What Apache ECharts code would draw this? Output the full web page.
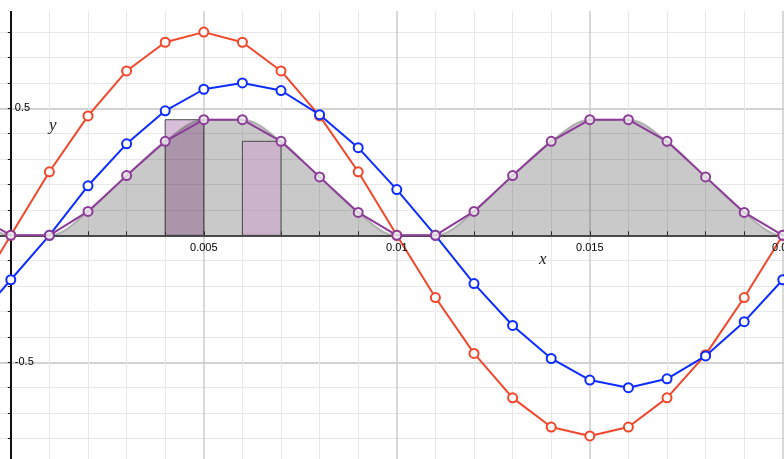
<!DOCTYPE html>
<html>
<head>
<meta charset="utf-8">
<style>
  html, body { margin: 0; padding: 0; background: #ffffff; }
  #chart { width: 784px; height: 459px; }
</style>
<script src="https://cdn.jsdelivr.net/npm/echarts@6/dist/echarts.min.js"></script>
</head>
<body>
<div id="chart"></div>
<script>
// Sample times (s)
const times = [-0.001, 0, 0.001, 0.002, 0.003, 0.004, 0.005, 0.006, 0.007, 0.008, 0.009,
               0.010, 0.011, 0.012, 0.013, 0.014, 0.015, 0.016, 0.017, 0.018, 0.019, 0.020, 0.021];
// Voltage-like wave (red)
const redValues = [-0.25, 0, 0.25, 0.47, 0.647, 0.76, 0.80, 0.76, 0.647, 0.47, 0.25,
                   0, -0.245, -0.465, -0.64, -0.755, -0.79, -0.755, -0.64, -0.47, -0.245, 0, 0.25];
// Lagging current-like wave (blue)
const blueValues = [-0.35, -0.175, 0, 0.195, 0.36, 0.49, 0.575, 0.60, 0.57, 0.475, 0.345,
                    0.18, 0, -0.19, -0.355, -0.485, -0.57, -0.60, -0.565, -0.475, -0.34, -0.175, 0];
// Product of the two waves (purple, shaded)
const productValues = [0.087, 0, 0, 0.094, 0.235, 0.37, 0.455, 0.455, 0.37, 0.23, 0.09,
                       0, 0, 0.094, 0.235, 0.37, 0.455, 0.455, 0.37, 0.23, 0.09, 0, 0];
// Rectangle strips under the product curve
const stripStart = [0.004, 0.006];
const stripEnd = [0.005, 0.007];
const stripHeight = [0.455, 0.37];
// Tick labels
const xTickValues = [0.005, 0.01, 0.015, 0.02];
const xTickLabels = ['0.005', '0.01', '0.015', '0.02'];
const yTickValues = [0.5, -0.5];
const yTickLabels = ['0.5', '-0.5'];

function pairs(xs, ys) { return xs.map((x, i) => [x, ys[i]]); }
function stripRenderer(style) {
  return function (params, api) {
    const p0 = api.coord([api.value(0), api.value(2)]);
    const p1 = api.coord([api.value(1), 0]);
    return {
      type: 'rect',
      shape: { x: p0[0], y: p0[1], width: p1[0] - p0[0], height: p1[1] - p0[1] },
      style: style
    };
  };
}
const stripData = stripStart.map((s, i) => [s, stripEnd[i], stripHeight[i]]);

const labelFont = { fontFamily: '"Liberation Sans", Arial, sans-serif', fontSize: 11, color: '#000', opacity: 1 };

// Tick labels sit on the axes that cross at the origin
const xLabelData = xTickValues.map((v, i) => ({ value: [v, 0], name: xTickLabels[i] }));
const yLabelData = yTickValues.map((v, i) => ({ value: [0, v], name: yTickLabels[i] }));

const chart = echarts.init(document.getElementById('chart'), null, { renderer: 'canvas' });

chart.setOption({
  animation: false,
  backgroundColor: '#ffffff',
  grid: { left: -182.2, width: 1158, top: -18.7, height: 508, outerBoundsMode: 'none', containLabel: false },
  xAxis: {
    type: 'value', min: -0.005, max: 0.025, interval: 0.005,
    axisLine: { onZero: true, lineStyle: { color: '#4a4a4a', width: 2 } },
    axisTick: { show: true, inside: true, length: 4, lineStyle: { color: '#333', width: 1 } },
    minorTick: { show: true, splitNumber: 5, length: 4, lineStyle: { color: '#333', width: 1 } },
    splitLine: { show: true, lineStyle: { color: '#cdcdcd', width: 1.5 } },
    minorSplitLine: { show: true, lineStyle: { color: '#e8e8e8', width: 1 } },
    axisLabel: { show: false }
  },
  yAxis: {
    type: 'value', min: -1, max: 1, interval: 0.5,
    axisLine: { onZero: true, lineStyle: { color: '#111', width: 2 } },
    axisTick: { show: true, inside: false, length: 3, lineStyle: { color: '#111', width: 1 } },
    minorTick: { show: true, splitNumber: 5, length: 3, lineStyle: { color: '#111', width: 1 } },
    splitLine: { show: true, lineStyle: { color: '#d2d2d2', width: 2 } },
    minorSplitLine: { show: true, lineStyle: { color: '#e8e8e8', width: 1 } },
    axisLabel: { show: false }
  },
  graphic: [
    { type: 'rect', z: 100, shape: { x: 0, y: 0, width: 784, height: 11 }, style: { fill: '#ffffff' } },
    { type: 'text', z: 101, left: 49, top: 117,
      style: { text: 'y', font: 'italic 17px "Liberation Serif", "DejaVu Serif", serif', fill: '#222' } },
    { type: 'text', z: 101, left: 539, top: 251,
      style: { text: 'x', font: 'italic 17px "Liberation Serif", "DejaVu Serif", serif', fill: '#222' } }
  ],
  series: [
    {
      type: 'custom', z: 1, renderItem: stripRenderer({
        fill: 'rgba(150,80,150,0.37)', stroke: '#4a4a4a', lineWidth: 1
      }),
      data: stripData.slice(0, 1), encode: { x: [0, 1], y: 2 }
    },
    {
      type: 'line', z: 2, data: pairs(times, productValues),
      smooth: 0.35, showSymbol: false, symbol: 'none',
      lineStyle: { color: 'rgba(90,90,90,0.35)', width: 2 },
      areaStyle: { color: 'rgba(0,0,0,0.21)', opacity: 1 }
    },
    {
      type: 'custom', z: 3, renderItem: stripRenderer({
        fill: 'rgba(205,160,205,0.55)', stroke: '#4a4a4a', lineWidth: 1
      }),
      data: stripData.slice(1), encode: { x: [0, 1], y: 2 }
    },
    {
      type: 'line', z: 4, data: pairs(times, redValues),
      symbol: 'circle', symbolSize: 9, showAllSymbol: true,
      lineStyle: { color: '#f2462b', width: 2 },
      itemStyle: { color: '#ffffff', borderColor: '#f2462b', borderWidth: 2 }
    },
    {
      type: 'line', z: 5, data: pairs(times, blueValues),
      symbol: 'circle', symbolSize: 9, showAllSymbol: true,
      lineStyle: { color: '#0d2cff', width: 2 },
      itemStyle: { color: '#ffffff', borderColor: '#0d2cff', borderWidth: 2 }
    },
    {
      type: 'line', z: 6, data: pairs(times, productValues),
      symbol: 'circle', symbolSize: 9, showAllSymbol: true,
      lineStyle: { color: '#8c3c98', width: 2 },
      itemStyle: { color: 'rgba(232,232,232,0.85)', borderColor: '#8c3c98', borderWidth: 2 }
    },
    {
      type: 'scatter', z: 7, data: xLabelData, symbolSize: 0, silent: true,
      itemStyle: { opacity: 1 },
      label: Object.assign({ show: true, position: 'bottom', distance: 7, formatter: p => p.name }, labelFont)
    },
    {
      type: 'scatter', z: 7, data: yLabelData, symbolSize: 0, silent: true,
      itemStyle: { opacity: 1 },
      label: Object.assign({ show: true, position: 'right', distance: 4, formatter: p => p.name }, labelFont)
    }
  ]
});
</script>
</body>
</html>
